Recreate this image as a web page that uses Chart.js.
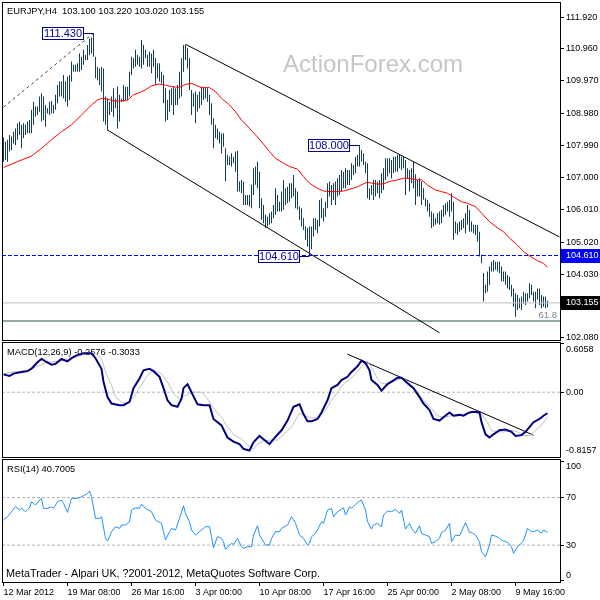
<!DOCTYPE html>
<html>
<head>
<meta charset="utf-8">
<script src="https://cdn.jsdelivr.net/npm/chart.js@4"></script>
<style>
  html, body { margin: 0; padding: 0; background: #fff; }
  #wrap { position: relative; width: 600px; height: 600px; overflow: hidden; }
  #wrap canvas { position: absolute; left: 0; }
</style>
</head>
<body>
<div id="wrap">
  <canvas id="price-chart" width="600" height="342" style="top:0"></canvas>
  <canvas id="macd-chart" width="600" height="117" style="top:341px"></canvas>
  <canvas id="rsi-chart" width="600" height="142" style="top:458px"></canvas>
</div>
<script>
// H4 bars, index 0 = 12 Mar 2012 00:00
const barHigh = [
  108.23,108.10,108.16,108.31,108.26,108.41,108.51,108.67,108.72,108.62,
  108.67,108.62,108.72,108.77,109.08,109.33,109.18,109.18,109.49,109.59,
  109.49,109.23,109.13,109.33,109.35,109.23,109.54,109.84,109.95,109.95,
  110.15,109.95,110.10,110.15,110.56,110.46,110.46,110.51,110.81,110.71,
  110.92,110.76,111.07,111.27,111.30,111.43,110.71,110.40,110.35,110.40,
  110.35,109.49,109.43,109.33,109.49,109.74,109.43,109.79,109.54,109.43,
  109.84,109.79,109.79,110.25,110.71,110.66,110.92,110.76,110.71,111.22,
  111.07,110.92,110.76,110.87,110.81,110.92,110.66,110.51,110.51,110.25,
  110.15,109.74,109.38,109.69,109.74,109.79,109.74,109.84,110.25,110.66,
  111.07,111.07,110.97,110.66,109.69,109.59,109.64,109.54,109.64,109.79,
  109.79,109.74,109.74,109.54,109.28,108.82,108.62,108.51,108.41,108.36,
  108.36,107.90,107.70,107.64,107.75,107.64,107.80,107.82,106.88,106.93,
  106.88,106.47,106.47,106.47,106.78,107.29,107.34,107.49,107.18,106.37,
  106.16,105.86,105.80,105.91,105.96,106.16,106.67,106.47,106.26,106.57,
  106.93,106.67,106.72,106.83,106.83,107.08,106.67,106.57,106.11,106.06,
  105.75,105.50,105.45,105.50,105.50,105.75,105.75,105.70,106.31,106.37,
  106.06,106.26,106.83,106.88,106.77,106.83,106.88,106.98,107.08,107.23,
  107.18,107.29,107.23,107.23,107.44,107.39,107.64,107.70,108.00,107.85,
  107.75,107.49,107.44,106.67,106.77,106.93,106.93,106.88,106.93,107.13,
  107.29,107.59,107.59,107.59,107.54,107.64,107.64,107.70,107.70,107.64,
  107.64,107.54,107.29,107.23,107.29,107.49,107.10,106.93,106.98,106.88,
  106.67,106.37,106.31,106.21,105.96,105.91,105.75,105.91,105.96,106.01,
  106.16,106.21,106.26,106.31,106.52,106.26,105.65,105.60,105.65,105.70,
  105.75,105.91,106.16,106.01,105.65,105.55,105.55,105.55,105.34,104.63,
  104.07,103.71,104.12,104.27,104.42,104.47,104.42,104.42,104.42,104.27,
  104.12,104.12,104.01,103.96,103.71,103.60,103.45,103.40,103.30,103.35,
  103.50,103.45,103.45,103.76,103.71,103.50,103.50,103.60,103.60,103.40,
  103.35,103.35,103.22
];
const barLow = [
  107.49,107.54,107.49,107.80,107.85,108.05,108.00,108.16,108.31,107.90,
  108.21,108.31,108.36,108.36,108.36,108.62,108.87,108.92,109.02,108.72,
  108.77,108.56,108.97,108.92,108.97,108.97,109.08,109.28,109.49,109.49,
  109.43,109.33,109.18,109.38,109.95,110.25,110.25,110.25,110.25,110.30,
  110.46,110.61,110.61,110.76,110.81,110.71,110.05,109.99,109.84,109.64,
  108.72,108.62,108.45,108.92,109.02,108.87,109.13,108.51,108.72,109.33,
  109.33,109.38,109.38,109.49,110.15,110.35,110.40,110.46,110.40,110.35,
  110.46,110.66,110.40,110.40,110.20,110.40,109.84,110.05,109.95,109.89,
  109.28,108.72,108.77,109.02,109.23,108.92,109.23,109.23,109.43,109.49,
  110.25,110.61,110.35,109.69,108.92,109.18,108.67,109.02,109.13,109.23,
  109.38,109.43,109.33,108.92,108.62,107.90,108.21,108.16,108.05,107.75,
  107.95,106.88,107.39,107.39,107.34,107.44,107.18,106.57,106.57,106.52,
  106.16,106.16,106.16,106.11,106.06,106.47,106.78,106.67,106.06,105.70,
  105.60,105.45,105.50,105.55,105.60,105.75,105.86,105.96,105.96,105.96,
  106.01,106.16,106.21,106.26,106.37,106.42,106.06,106.01,105.70,105.50,
  105.39,105.09,104.88,104.61,104.80,105.19,105.39,105.29,105.50,105.75,
  105.65,105.80,106.06,106.42,106.16,106.31,106.16,106.42,106.47,106.57,
  106.67,106.67,106.77,106.77,106.93,107.08,107.13,107.34,107.34,107.49,
  107.39,107.13,106.37,106.31,106.47,106.31,106.42,106.52,106.37,106.52,
  106.62,106.93,107.03,107.13,106.98,107.13,107.18,107.18,107.29,107.23,
  107.29,106.47,106.98,106.57,106.83,106.67,106.16,106.42,106.42,106.16,
  106.32,106.11,105.96,105.80,105.45,105.50,105.55,105.60,105.55,105.60,
  105.80,105.85,105.96,105.80,105.96,105.09,105.29,105.24,105.34,105.39,
  105.45,105.29,105.55,105.34,105.34,105.29,105.24,105.04,104.58,104.37,
  103.20,103.45,103.50,103.71,104.12,104.12,104.17,104.12,104.07,103.81,
  103.81,103.71,103.60,103.55,103.35,103.04,102.73,102.94,102.99,102.94,
  103.14,103.09,103.20,103.30,103.40,103.20,102.99,103.25,103.09,102.99,
  103.04,102.99,103.02
];

// red moving average
const maBars = [0,7,14,19,24,29,34,39,44,47,49,52,55,59,62,65,68,71,74,78,81,84,88,91,94,96,99,103,106,109,
  113,116,119,123,126,129,133,136,140,143,147,150,153,157,160,163,167,170,173,177,180,182,184,187,190,193,197,200,203,207,
  209,212,216,219,222,226,229,232,236,239,243,246,250,253,257,260,263,267,270,272];
const maValues = [107.31,107.49,107.66,107.90,108.16,108.41,108.62,108.92,109.23,109.38,109.43,109.41,109.35,109.35,109.38,109.54,109.61,109.69,109.82,109.87,
  109.84,109.79,109.77,109.86,109.89,109.84,109.76,109.76,109.64,109.43,109.23,109.02,108.77,108.51,108.31,108.10,107.80,107.59,107.44,107.34,
  107.26,107.03,106.83,106.67,106.59,106.57,106.57,106.59,106.64,106.72,106.81,106.86,106.83,106.80,106.81,106.88,106.93,106.98,106.98,106.93,
  106.93,106.77,106.62,106.57,106.52,106.37,106.26,106.21,106.11,105.91,105.65,105.50,105.34,105.14,104.93,104.73,104.60,104.45,104.37,104.25];

// drawn objects on the price window
const upperLineBars = [91, 278];
const upperLinePrices = [111.09, 105.18];
const lowerLineBars = [52, 218];
const lowerLinePrices = [108.46, 102.24];
const swingLineBars = [0, 45];
const swingLinePrices = [109.16, 111.43];
const pivotBars = [45, 178, 153];
const pivotPrices = [111.43, 108.00, 104.61];
const supportLevel = 104.61;
const lastPrice = 103.155;
const fibLevel = 102.60;
const fibLabel = '61.8';

const macdBars = [0,3,5,9,12,14,17,19,21,24,26,29,32,34,37,40,44,46,49,50,
  52,54,58,60,63,65,68,70,73,75,78,80,82,84,87,89,90,92,94,97,
  100,103,105,109,112,115,118,120,123,125,128,130,133,135,139,142,145,148,150,152,
  154,157,159,162,164,167,169,172,174,177,179,181,183,184,187,189,192,194,197,199,
  202,205,208,210,213,215,218,220,223,225,228,230,233,235,238,239,241,243,245,248,
  251,254,256,259,261,263,265,268,270,272];
const macdValues = [0.22,0.20,0.23,0.25,0.26,0.29,0.37,0.41,0.38,0.34,0.35,0.41,0.38,0.42,0.46,0.48,0.48,0.42,0.29,0.13,
  -0.06,-0.14,-0.16,-0.16,-0.12,0.05,0.17,0.27,0.29,0.26,0.19,0.05,-0.10,-0.16,-0.18,-0.08,0.05,0.10,0.00,-0.15,
  -0.16,-0.16,-0.33,-0.41,-0.56,-0.61,-0.64,-0.70,-0.72,-0.62,-0.54,-0.58,-0.64,-0.58,-0.47,-0.35,-0.18,-0.15,-0.27,-0.36,
  -0.36,-0.33,-0.25,-0.10,0.05,0.09,0.15,0.19,0.25,0.32,0.39,0.36,0.27,0.15,0.09,0.02,0.10,0.13,0.18,0.18,
  0.11,0.05,-0.06,-0.14,-0.22,-0.33,-0.35,-0.31,-0.25,-0.29,-0.28,-0.29,-0.25,-0.24,-0.25,-0.37,-0.52,-0.56,-0.52,-0.47,
  -0.46,-0.49,-0.54,-0.53,-0.49,-0.43,-0.37,-0.33,-0.29,-0.26];
const signalBars = [0,5,12,17,22,27,32,37,42,46,49,51,54,56,59,62,65,69,72,75,
  79,82,85,88,91,95,99,102,105,109,112,115,119,122,125,127,130,134,137,140,
  144,148,151,154,158,161,164,167,170,174,177,179,182,184,187,189,192,195,199,201,
  204,207,210,214,217,220,224,227,230,234,237,239,242,244,247,250,254,257,260,264,
  266,269,272];
const signalValues = [0.23,0.25,0.27,0.32,0.37,0.38,0.40,0.44,0.48,0.48,0.42,0.25,0.09,-0.06,-0.12,-0.14,-0.06,0.09,0.21,0.27,
  0.23,0.13,-0.02,-0.08,-0.04,0.00,0.00,-0.08,-0.20,-0.31,-0.43,-0.52,-0.58,-0.65,-0.70,-0.64,-0.60,-0.59,-0.59,-0.52,
  -0.43,-0.26,-0.29,-0.32,-0.31,-0.22,-0.10,0.00,0.10,0.18,0.25,0.32,0.38,0.30,0.17,0.11,0.10,0.13,0.17,0.15,
  0.09,0.00,-0.10,-0.20,-0.29,-0.31,-0.29,-0.28,-0.27,-0.25,-0.25,-0.27,-0.37,-0.47,-0.49,-0.49,-0.47,-0.49,-0.54,-0.53,
  -0.47,-0.41,-0.30];
const macdTrendBars = [172, 265];
const macdTrendValues = [0.47, -0.53];

const rsiBars = [0,2,4,6,8,9,11,13,14,16,18,19,20,22,24,25,27,29,30,32,
  34,35,37,39,40,42,43,44,46,48,49,51,52,54,56,58,59,61,63,64,
  66,68,69,71,74,76,79,80,81,83,84,86,88,90,91,93,94,96,99,101,
  103,104,105,107,109,110,111,114,115,117,119,120,122,124,125,127,128,129,131,133,
  134,136,138,139,142,144,146,148,150,152,153,154,156,157,159,160,162,164,165,167,
  169,170,171,173,174,176,178,179,181,182,184,185,187,189,190,192,194,196,198,199,
  201,203,204,206,208,209,211,213,214,216,218,219,221,223,224,226,228,229,231,233,
  234,236,238,239,241,243,244,247,249,250,252,254,255,257,259,260,262,264,265,267,
  269,270,272];
const rsiValues = [51.1,53.9,58.1,62.3,59.5,60.9,58.1,61.4,66.5,63.7,67.9,69.3,60.9,60.9,62.3,60.9,66.5,67.9,65.1,57.5,
  69.3,69.3,69.3,70.7,71.5,73.5,75.4,70.7,52.5,52.5,53.9,35.7,33.4,41.3,45.5,44.1,46.9,46.9,49.7,59.5,
  61.4,60.9,64.5,60.9,58.1,51.1,48.3,41.3,34.3,41.3,44.1,42.7,52.5,63.1,56.7,49.7,42.7,38.5,42.7,45.5,
  45.5,37.1,27.8,37.1,35.7,32.9,26.4,31.5,30.6,35.7,28.7,27.3,28.7,28.7,38.5,46.3,38.5,35.7,30.1,30.1,
  35.7,41.3,41.3,44.1,46.9,53.9,48.3,38.5,35.7,30.1,31.5,37.1,39.9,42.7,49.7,48.3,59.5,60.9,53.9,58.1,
  60.3,61.4,55.3,62.3,60.9,64.2,67.0,67.9,59.5,49.7,43.5,46.9,48.3,45.5,55.3,58.6,58.1,60.0,56.7,59.5,
  43.5,48.3,44.1,39.9,46.3,39.9,38.5,37.1,31.5,32.9,35.7,40.7,42.7,48.3,32.9,38.5,37.9,41.3,49.1,40.7,
  40.7,38.5,32.9,24.5,20.3,30.1,38.5,37.1,34.3,33.4,32.3,28.7,23.1,28.7,31.5,33.7,44.1,41.3,41.3,42.7,
  39.9,42.7,40.7];

const priceTicks = [111.92, 110.96, 109.97, 108.98, 107.99, 107.00, 106.01, 105.02, 104.03, 102.08];
const macdTicks = [0.6058, 0, -0.8157];
const rsiTicks = [100, 70, 30, 0];
const rsiLevels = [70, 30];
const timeTicks = [0, 32, 64, 96, 128, 160, 192, 224, 256];
const timeLabels = ['12 Mar 2012', '19 Mar 08:00', '26 Mar 16:00', '3 Apr 00:00', '10 Apr 08:00',
  '17 Apr 16:00', '25 Apr 00:00', '2 May 08:00', '9 May 16:00'];

const symbolTitle = 'EURJPY,H4  103.100 103.220 103.020 103.155';
const macdTitle = 'MACD(12,26,9) -0.2576 -0.3033';
const rsiTitle = 'RSI(14) 40.7005';
const copyright = 'MetaTrader - Alpari UK, ?2001-2012, MetaQuotes Software Corp.';
const watermark = 'ActionForex.com';

const FONT = "'Liberation Sans', Arial, sans-serif";
// bar centres land on pixel centres (2px per bar)
const X_MIN = -0.75, X_MAX = 278.25;
Chart.defaults.font.family = FONT;
Chart.defaults.font.size = 9;

function pts(xs, ys) {
  return xs.map((x, i) => ({ x: x, y: ys[i] }));
}
function level(v) {
  return [{ x: X_MIN, y: v }, { x: X_MAX, y: v }];
}
function lineSet(data, color, width, dash) {
  return {
    type: 'line', data: data, borderColor: color, borderWidth: width,
    borderDash: dash || [], pointRadius: 0, tension: 0, fill: false, order: 0
  };
}
function timeAxis(show) {
  const axis = { type: 'linear', min: X_MIN, max: X_MAX, offset: false, display: show };
  if (show) {
    axis.afterFit = (s) => { s.height = 18; };
    axis.afterBuildTicks = (s) => { s.ticks = timeTicks.map((v) => ({ value: v })); };
    axis.grid = { drawOnChartArea: false, tickLength: 4, color: '#000' };
    axis.border = { display: false };
    axis.ticks = {
      align: 'start', maxRotation: 0, autoSkip: false, padding: 1, color: '#000',
      callback: (v, i) => timeLabels[i]
    };
  }
  return axis;
}
// labels are painted by the panel plugins, the axis only gives ticks and marks
function rightAxis(min, max, ticks) {
  return {
    position: 'right', min: min, max: max,
    afterFit: (s) => { s.width = 40; },
    afterBuildTicks: (s) => { s.ticks = ticks.map((v) => ({ value: v })); },
    grid: { drawOnChartArea: false, tickLength: 4, color: '#000' },
    border: { display: false },
    ticks: { display: false }
  };
}
function baseOptions(padding, yAxis, showTime) {
  return {
    responsive: false, animation: false, devicePixelRatio: 1,
    layout: { padding: padding },
    plugins: { legend: { display: false }, tooltip: { enabled: false } },
    scales: { x: timeAxis(showTime), y: yAxis }
  };
}
function frame(ctx, a) {
  ctx.strokeStyle = '#000';
  ctx.lineWidth = 1;
  ctx.strokeRect(a.left + 0.5, a.top + 0.5, a.right - a.left, a.bottom - a.top);
}
function axisLabels(chart, values, fmt, clamp) {
  const ctx = chart.ctx, a = chart.chartArea, ys = chart.scales.y;
  ctx.fillStyle = '#000';
  ctx.font = '9px ' + FONT;
  ctx.textAlign = 'left';
  ctx.textBaseline = 'middle';
  values.forEach((v) => {
    let py = ys.getPixelForValue(v);
    if (clamp) py = Math.min(Math.max(py, a.top + 8), a.bottom - 6);
    ctx.fillText(fmt(v), a.right + 6, py);
  });
}

const priceDecor = {
  id: 'priceDecor',
  beforeDatasetsDraw(chart) {
    const ctx = chart.ctx;
    ctx.save();
    ctx.font = '24px ' + FONT;
    ctx.fillStyle = '#c6c6c6';
    ctx.fillText(watermark, 283, 72);
    ctx.restore();
  },
  afterDraw(chart) {
    const ctx = chart.ctx, a = chart.chartArea;
    const xs = chart.scales.x, ys = chart.scales.y;
    ctx.save();
    frame(ctx, a);
    axisLabels(chart, priceTicks, (v) => v.toFixed(3), false);

    ctx.fillStyle = '#000';
    ctx.font = '9.3px ' + FONT;
    ctx.textBaseline = 'middle';
    ctx.fillText(symbolTitle, 7, 11);

    // price tags on the swing points
    ctx.font = '11px ' + FONT;
    ctx.textAlign = 'center';
    pivotBars.forEach((b, i) => {
      const px = xs.getPixelForValue(b);
      const py = Math.round(ys.getPixelForValue(pivotPrices[i])) + 0.5;
      const right = Math.round(px) - 10;
      ctx.strokeStyle = '#000080';
      ctx.beginPath();
      ctx.moveTo(right, py);
      ctx.lineTo(px, py);
      ctx.stroke();
      ctx.fillStyle = '#fff';
      ctx.fillRect(right - 42, py - 6, 42, 12);
      ctx.strokeRect(right - 41.5, py - 6, 41, 12);
      ctx.fillStyle = '#0000a0';
      ctx.fillText(pivotPrices[i].toFixed(3), right - 21, py + 0.5);
    });

    ctx.fillStyle = '#778899';
    ctx.font = '9.5px ' + FONT;
    ctx.textAlign = 'right';
    ctx.textBaseline = 'alphabetic';
    ctx.fillText(fibLabel, a.right - 3, ys.getPixelForValue(fibLevel) - 3);

    // axis tags
    ctx.font = '9px ' + FONT;
    ctx.textAlign = 'left';
    ctx.textBaseline = 'middle';
    [[supportLevel, '#0000ff'], [lastPrice, '#000000']].forEach((t) => {
      const py = Math.round(ys.getPixelForValue(t[0]));
      ctx.fillStyle = t[1];
      ctx.fillRect(a.right + 1, py - 7, 40, 14);
      ctx.fillStyle = '#fff';
      ctx.fillText(t[0].toFixed(3), a.right + 6, py);
    });
    ctx.restore();
  }
};

function panelDecor(title, footer, labels, fmt) {
  return {
    id: 'panelDecor',
    beforeDatasetsDraw(chart) {
      const ctx = chart.ctx, a = chart.chartArea;
      ctx.save();
      ctx.fillStyle = '#000';
      ctx.font = '9.3px ' + FONT;
      ctx.textBaseline = 'middle';
      ctx.fillText(title, 7, a.top + 10);
      if (footer) {
        ctx.font = '10.8px ' + FONT;
        ctx.fillText(footer, 6, a.bottom - 8);
      }
      ctx.restore();
    },
    afterDraw(chart) {
      const ctx = chart.ctx;
      ctx.save();
      frame(ctx, chart.chartArea);
      // window max/min labels are kept inside the pane
      axisLabels(chart, labels, fmt, true);
      ctx.restore();
    }
  };
}

new Chart(document.getElementById('price-chart'), {
  type: 'line',
  data: {
    datasets: [
      lineSet(pts(maBars, maValues), '#ff0000', 1),
      lineSet(pts(upperLineBars, upperLinePrices), '#000', 1),
      lineSet(pts(lowerLineBars, lowerLinePrices), '#000', 1),
      lineSet(pts(swingLineBars, swingLinePrices), '#404040', 1, [3, 3]),
      lineSet(level(supportLevel), '#0000ff', 1, [4, 2]),
      lineSet(level(lastPrice), '#c0c0c0', 1),
      lineSet(level(fibLevel), '#2f4f4f', 1),
      {
        type: 'bar',
        data: barHigh.map((h, i) => ({ x: i, y: [barLow[i], h] })),
        backgroundColor: '#143d5c',
        barThickness: 1,
        borderWidth: 0,
        inflateAmount: 0,
        order: 1
      }
    ]
  },
  options: baseOptions({ left: 2, top: 2, right: 0, bottom: 2 }, rightAxis(102.0175, 112.3875, priceTicks), false),
  plugins: [priceDecor]
});

new Chart(document.getElementById('macd-chart'), {
  type: 'line',
  data: {
    datasets: [
      lineSet(pts(macdBars, macdValues), '#000080', 2),
      lineSet(pts(signalBars, signalValues), '#c0c0c0', 1),
      lineSet(pts(macdTrendBars, macdTrendValues), '#000', 1),
      lineSet(level(0), '#b4b4b4', 1, [3, 2])
    ]
  },
  options: baseOptions({ left: 2, top: 1, right: 0, bottom: 1 }, rightAxis(-0.80, 0.62, macdTicks), false),
  plugins: [panelDecor(macdTitle, null, macdTicks, (v) => (v === 0 ? '0.00' : v.toFixed(4)))]
});

new Chart(document.getElementById('rsi-chart'), {
  type: 'line',
  data: {
    datasets: [
      lineSet(pts(rsiBars, rsiValues), '#1e90ff', 1),
      lineSet(level(rsiLevels[0]), '#b4b4b4', 1, [3, 2]),
      lineSet(level(rsiLevels[1]), '#b4b4b4', 1, [3, 2])
    ]
  },
  options: baseOptions({ left: 2, top: 1, right: 0, bottom: 0 }, rightAxis(-1, 102.4, rsiTicks), true),
  plugins: [panelDecor(rsiTitle, copyright, rsiTicks, (v) => String(v))]
});
</script>
</body>
</html>
